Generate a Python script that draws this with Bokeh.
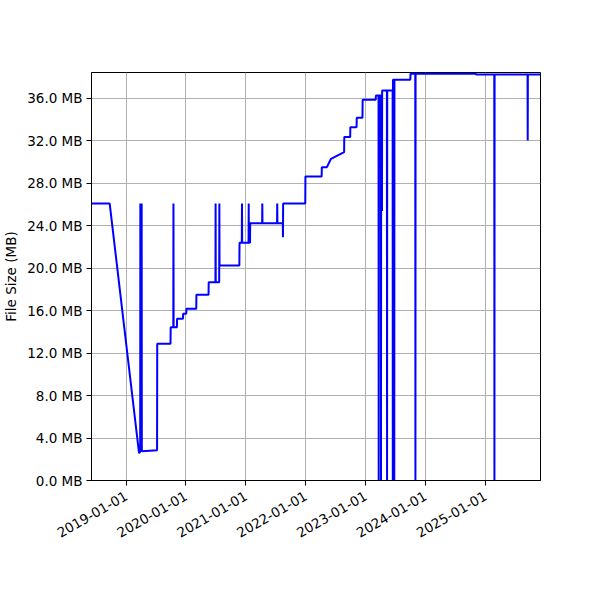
import math
import pandas as pd
from bokeh.plotting import figure
from bokeh.models import (ColumnDataSource, Range1d, FixedTicker, DatetimeTickFormatter,
                          CustomJSTickFormatter)
from bokeh.embed import file_html
from bokeh.resources import INLINE

# ---- data ----
dates = [
    "2018-06-04", "2018-09-23", "2019-03-21", "2019-03-28", "2019-03-29", "2019-03-30",
    "2019-04-06", "2019-04-07", "2019-07-09", "2019-07-10", "2019-09-29", "2019-09-30",
    "2019-10-16", "2019-10-17", "2019-10-18", "2019-11-07", "2019-11-08", "2019-12-14",
    "2019-12-15", "2020-01-03", "2020-01-04", "2020-03-04", "2020-03-05", "2020-05-18",
    "2020-05-19", "2020-06-29", "2020-06-30", "2020-07-01", "2020-07-22", "2020-07-23",
    "2020-07-24", "2020-11-22", "2020-11-23", "2020-12-07", "2020-12-08", "2020-12-09",
    "2021-01-17", "2021-01-18", "2021-01-19", "2021-01-26", "2021-01-27", "2021-04-10",
    "2021-04-11", "2021-04-12", "2021-07-10", "2021-07-11", "2021-07-12", "2021-08-14",
    "2021-08-15", "2021-08-16", "2021-12-29", "2021-12-30", "2022-04-08", "2022-04-09",
    "2022-05-10", "2022-06-04", "2022-08-23", "2022-08-24", "2022-09-29", "2022-09-30",
    "2022-11-07", "2022-11-08", "2022-12-13", "2022-12-14", "2023-03-04", "2023-03-05",
    "2023-03-21", "2023-03-22", "2023-03-23", "2023-04-04", "2023-04-05", "2023-04-06",
    "2023-04-10", "2023-04-11", "2023-04-12", "2023-05-11", "2023-05-12", "2023-05-13",
    "2023-06-15", "2023-06-16", "2023-06-17", "2023-06-24", "2023-06-25", "2023-06-26",
    "2023-10-01", "2023-10-02", "2023-10-31", "2023-11-01", "2023-11-02", "2024-11-04",
    "2024-11-05", "2025-02-24", "2025-02-25", "2025-02-26", "2025-09-15", "2025-09-16",
    "2025-09-17", "2025-12-03",
]
size_mb = [
    26.1, 26.1, 2.57, 2.70, 26.1, 2.70,
    26.1, 2.76, 2.85, 12.88, 12.88, 14.45,
    14.45, 26.1, 14.45, 14.45, 15.24, 15.24,
    15.71, 15.71, 16.18, 16.18, 17.5, 17.5,
    18.69, 18.69, 26.1, 18.69, 18.69, 26.1,
    20.26, 20.26, 22.4, 22.4, 26.1, 22.4,
    22.4, 26.1, 22.4, 22.4, 24.25, 24.25,
    26.1, 24.25, 24.25, 26.1, 24.25, 24.25,
    22.93, 26.1, 26.1, 28.65, 28.65, 29.53,
    29.53, 30.32, 30.94, 32.36, 32.36, 33.3,
    33.3, 34.19, 34.19, 35.88, 35.88, 36.29,
    36.29, 0.0, 36.29, 36.29, 0.0, 36.29,
    36.29, 25.4, 36.76, 36.76, 0.0, 36.76,
    36.76, 0.0, 37.76, 37.76, 0.0, 37.76,
    37.76, 38.33, 38.33, 0.0, 38.33, 38.33,
    38.27, 38.27, 0.0, 38.27, 38.27, 32.05,
    38.27, 38.27,
]
year_ticks = ["2019-01-01", "2020-01-01", "2021-01-01", "2022-01-01",
              "2023-01-01", "2024-01-01", "2025-01-01"]
y_ticks = [0, 4, 8, 12, 16, 20, 24, 28, 32, 36]

x = pd.to_datetime(dates)
src = ColumnDataSource(dict(x=x, y=size_mb))

FONT = "DejaVu Sans"
p = figure(width=600, height=600, x_axis_type="datetime",
           output_backend="svg", toolbar_location=None,
           x_range=Range1d(x[0], x[-1]), y_range=Range1d(0, 38.45),
           min_border_left=90, min_border_right=60, min_border_top=72,
           min_border_bottom=120)
p.line("x", "y", source=src, line_color="#0000ff", line_width=2)

p.outline_line_color = "black"
p.outline_line_alpha = 1.0
p.outline_line_width = 1.0

tick_ms = [pd.Timestamp(d).value / 1e6 for d in year_ticks]
p.xaxis.ticker = FixedTicker(ticks=tick_ms)
fmt = "%Y-%m-%d"
p.xaxis.formatter = DatetimeTickFormatter(milliseconds=fmt, seconds=fmt, minsec=fmt,
                                          minutes=fmt, hourmin=fmt, hours=fmt, days=fmt,
                                          months=fmt, years=fmt)
p.xaxis.major_label_orientation = math.pi / 6

p.yaxis.ticker = FixedTicker(ticks=y_ticks)
p.yaxis.formatter = CustomJSTickFormatter(code="return tick.toFixed(1) + ' MB';")
p.yaxis.axis_label = "File Size (MB)"

for ax in (p.xaxis[0], p.yaxis[0]):
    ax.major_label_text_font = FONT
    ax.major_label_text_font_size = "13.5px"
    ax.major_label_text_color = "black"
    ax.axis_label_text_font = FONT
    ax.axis_label_text_font_size = "13.5px"
    ax.axis_label_text_font_style = "normal"
    ax.axis_label_text_color = "black"
    ax.axis_line_color = "black"
    ax.major_tick_line_color = "black"
    ax.major_tick_out = 5
    ax.major_tick_in = 0
    ax.minor_tick_line_color = None
    ax.major_label_standoff = 4

p.xaxis[0].major_label_standoff = 9

for g in (p.xgrid[0], p.ygrid[0]):
    g.grid_line_color = "#b0b0b0"
    g.grid_line_width = 1
    g.grid_line_alpha = 1.0

p.background_fill_color = "white"
p.border_fill_color = "white"

open("out.html", "w").write(file_html(p, INLINE))
